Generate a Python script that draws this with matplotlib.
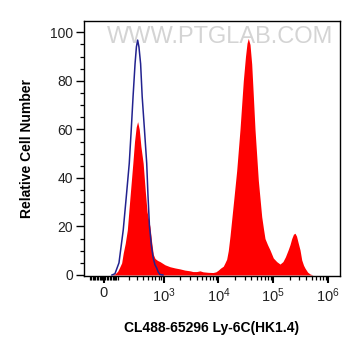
import numpy as np
import matplotlib
matplotlib.use("Agg")
import matplotlib.pyplot as plt
from matplotlib.ticker import FixedLocator, NullFormatter

# ---------------- data ----------------
red_x = [-150, 56, 78, 99, 114, 133, 147, 166, 187, 216, 250, 272, 295, 316, 341,
         368, 408, 451, 486, 551, 593, 637, 686, 763, 851, 1051, 1299, 1606, 1985, 2450,
         3023, 3427, 4010, 4603, 5220, 6440, 7950, 9010, 9940, 10890, 12260, 13160, 14130,
         15110, 16250, 17670, 19220, 21520, 24730, 28410, 31130, 33200, 35060, 37650, 40430,
         43280, 46460, 53400, 61600, 66340, 70700, 78500, 87200, 100200, 115600, 132800,
         150100, 166700, 188100, 202100, 217100, 233500, 249400, 265600, 283000, 307900,
         330600, 356700, 379800, 422200, 468800, 530600, 1650000]
red_y = [0, 0, 0.4, 1.5, 3, 5, 9, 13, 18.5, 32, 46, 55, 61, 63.2, 60,
         53, 46, 34, 26, 20, 13.7, 8.5, 6.8, 6.0, 5.5, 4.2, 3.4, 2.9, 2.5, 2.0,
         1.7, 1.4, 1.4, 1.7, 1.3, 1.1, 1.0, 1.3, 2.0, 2.8, 3.6, 5.0, 6.5,
         10, 16, 24, 32, 43, 60, 80, 90, 95.5, 97.5, 95, 87,
         74, 60, 39, 24, 19, 15, 12.5, 10.3, 7, 5.5, 4.5,
         5.5, 7.5, 10.5, 12.5, 15, 16.8, 17.2, 16, 13.5, 10.3,
         6.2, 4, 2.8, 1.2, 0.4, 0, 0]

blue_x = [56, 78, 110, 147, 176, 208, 231, 253, 279, 298, 316, 336, 363, 390, 432,
          478, 505, 540, 588, 637, 686, 737, 790, 851, 965]
blue_y = [0, 0.5, 5, 18.5, 32, 46, 60, 73.5, 87, 94, 96.8, 94, 87, 73.5, 60,
          46, 33, 20, 12, 6.9, 4.2, 2.9, 1.2, 0.2, 0]

x_major = [0, 1e3, 1e4, 1e5, 1e6]
x_major_labels = ["0", "$10^3$", "$10^4$", "$10^5$", "$10^6$"]
y_major = [0, 20, 40, 60, 80, 100]
y_major_labels = ["0", "20", "40", "60", "80", "100"]

xlabel = "CL488-65296 Ly-6C(HK1.4)"
ylabel = "Relative Cell Number"
watermark = "WWW.PTGLAB.COM"

# ---------------- style ----------------
plt.rcParams['font.family'] = ['Liberation Sans', 'DejaVu Sans']
plt.rcParams['mathtext.fontset'] = 'custom'
plt.rcParams['mathtext.rm'] = 'Liberation Sans'
plt.rcParams['mathtext.it'] = 'Liberation Sans'
plt.rcParams['mathtext.bf'] = 'Liberation Sans:bold'

W = 163.0
def fwd(v):
    return np.arcsinh(np.asarray(v, dtype=float) / W)
def inv(u):
    return W * np.sinh(np.asarray(u, dtype=float))

fig = plt.figure(figsize=(3.61, 3.56), dpi=100)
ax = fig.add_axes([84/361, 1-275.7/356, (340-84)/361, (275.7-20.7)/356])
ax.set_xscale('function', functions=(fwd, inv))

ax.fill_between(red_x, red_y, 0, color='#ff0000', lw=0, zorder=2)
ax.plot(blue_x, blue_y, color='#22228f', lw=1.1, zorder=3)

ax.set_xlim(-153, 1.65e6)
ax.set_ylim(-0.3, 104.8)

# watermark
ax.text(0.53, 0.938, watermark, transform=ax.transAxes, ha='center', va='center',
        fontsize=17, color='#d4d4d4', zorder=1)

# x ticks
minor = []
minor += list(range(-100, 0, 10)) + list(range(10, 100, 10))
minor += list(range(100, 1000, 100))
for dec in [1e3, 1e4, 1e5]:
    minor += [k * dec for k in range(2, 10)]
ax.xaxis.set_major_locator(FixedLocator(x_major))
ax.set_xticklabels(x_major_labels)
ax.xaxis.set_minor_locator(FixedLocator(minor))
ax.xaxis.set_minor_formatter(NullFormatter())

ax.yaxis.set_major_locator(FixedLocator(y_major))
ax.set_yticklabels(y_major_labels)
ax.yaxis.set_minor_locator(FixedLocator([v for v in range(5, 105, 5) if v % 20]))

ax.tick_params(axis='x', which='major', length=5, width=1.5, pad=2.5,
               labelsize=10.5, labelcolor='#222222')
ax.tick_params(axis='x', which='minor', length=3, width=0.9)
ax.tick_params(axis='y', which='major', length=6, width=1.0, pad=2,
               labelsize=10, labelcolor='#222222')
ax.tick_params(axis='y', which='minor', length=3, width=0.9)

for s in ax.spines.values():
    s.set_linewidth(1.0)

fig.text(84/361 + (340-84)/361/2, 1-328/356, xlabel, ha='center', va='center',
         fontsize=10, fontweight='bold')
fig.text(27/361, 1-148/356, ylabel, ha='center', va='center', rotation=90,
         fontsize=10, fontweight='bold')

fig.savefig('out.png', dpi=100)
